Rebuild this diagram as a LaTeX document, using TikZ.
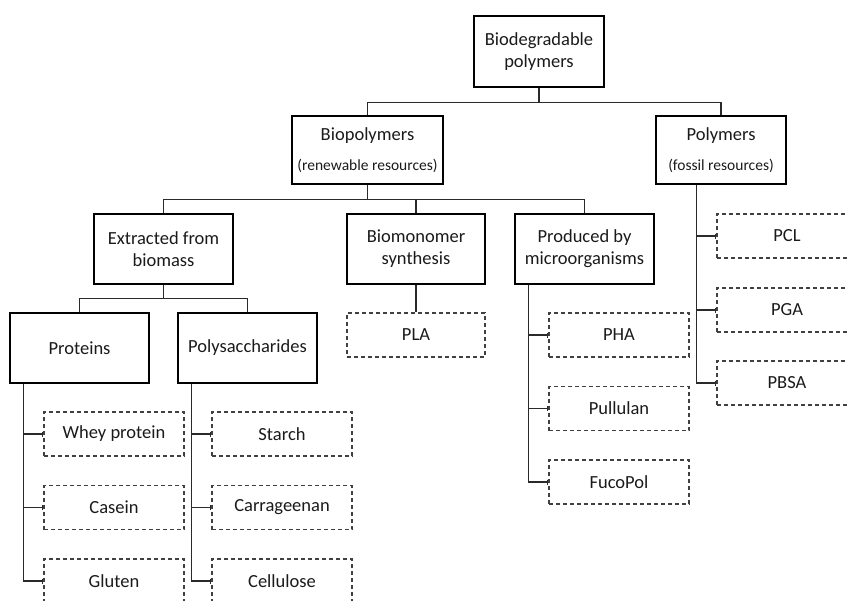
\documentclass[tikz,border=0pt]{standalone}
\usepackage{fontspec}
\setmainfont{Carlito}
\usetikzlibrary{arrows.meta}
\definecolor{lin}{HTML}{2A2A2A}
\definecolor{dsh}{HTML}{404040}
\definecolor{txt}{HTML}{1A1A1A}
\begin{document}
\begin{tikzpicture}[x=1pt,y=-1pt,
 every node/.style={font=\fontsize{18.5}{22}\selectfont, text=txt, align=center, inner sep=0pt},
 solidbox/.style={draw=black, line width=1.4pt, minimum width=139pt, minimum height=70pt},
 dashbox/.style={draw=dsh, line width=1.2pt, dash pattern=on 4pt off 3pt, minimum width=140pt, minimum height=44pt},
 conn/.style={draw=lin, line width=1.5pt},
 leaf/.style={conn, -{Bar[width=5pt,line width=1.2pt]}},
]
\newcommand{\smallfnt}{\fontsize{15.5}{18}\selectfont}
\useasboundingbox (0,0) rectangle (848,600);
% level 0
\node[solidbox, minimum width=130pt, minimum height=71pt] (top) at (539,51.5) {Biodegradable\\polymers};
% level 1
\node[solidbox, minimum width=151pt, minimum height=68pt] (bio) at (367.5,150) {Biopolymers\\[8pt]{\smallfnt(renewable resources)}};
\node[solidbox, minimum width=130pt, minimum height=68pt] (poly) at (721,150) {Polymers\\[8pt]{\smallfnt(fossil resources)}};
% level 2
\node[solidbox] (ext) at (163.5,249) {Extracted from\\biomass};
\node[solidbox, minimum width=138pt] (mono) at (416,249) {Biomonomer\\synthesis};
\node[solidbox] (prod) at (584.5,249) {Produced by\\microorganisms};
% level 3
\node[solidbox] (prot) at (79.5,348) {Proteins};
\node[solidbox] (polys) at (247.5,348) {Polysaccharides};
\node[dashbox, minimum width=138pt] (pla) at (416,335) {PLA};
% leaves
\node[dashbox] (whey) at (114,434) {Whey protein};
\node[dashbox] (casein) at (114,507.5) {Casein};
\node[dashbox] (gluten) at (114,581) {Gluten};
\node[dashbox] (starch) at (282,434) {Starch};
\node[dashbox] (carr) at (282,507.5) {Carrageenan};
\node[dashbox] (cell) at (282,581) {Cellulose};
\node[dashbox] (pha) at (619,335) {PHA};
\node[dashbox] (pull) at (619,408.5) {Pullulan};
\node[dashbox] (fuco) at (619,482) {FucoPol};
\node[dashbox] (pcl) at (787,236) {PCL};
\node[dashbox] (pga) at (787,310) {PGA};
\node[dashbox] (pbsa) at (787,383) {PBSA};
% connectors
\draw[conn] (top.south) -- ++(0,15) -| (bio.north);
\draw[conn] (top.south) -- ++(0,15) -| (poly.north);
\draw[conn] (bio.south) -- ++(0,15) -| (ext.north);
\draw[conn] (bio.south) -- ++(0,15) -| (mono.north);
\draw[conn] (bio.south) -- ++(0,15) -| (prod.north);
\draw[conn] (ext.south) -- ++(0,14) -| (prot.north);
\draw[conn] (ext.south) -- ++(0,14) -| (polys.north);
\draw[conn] (mono.south) -- (pla.north);
\draw[leaf] ([xshift=14pt]prot.south west) |- (whey.west);
\draw[leaf] ([xshift=14pt]prot.south west) |- (casein.west);
\draw[leaf] ([xshift=14pt]prot.south west) |- (gluten.west);
\draw[leaf] ([xshift=14pt]polys.south west) |- (starch.west);
\draw[leaf] ([xshift=14pt]polys.south west) |- (carr.west);
\draw[leaf] ([xshift=14pt]polys.south west) |- (cell.west);
\draw[leaf] ([xshift=14pt]prod.south west) |- (pha.west);
\draw[leaf] ([xshift=14pt]prod.south west) |- (pull.west);
\draw[leaf] ([xshift=14pt]prod.south west) |- (fuco.west);
\draw[leaf] ([xshift=41pt]poly.south west) |- (pcl.west);
\draw[leaf] ([xshift=41pt]poly.south west) |- (pga.west);
\draw[leaf] ([xshift=41pt]poly.south west) |- (pbsa.west);
\end{tikzpicture}
\end{document}
